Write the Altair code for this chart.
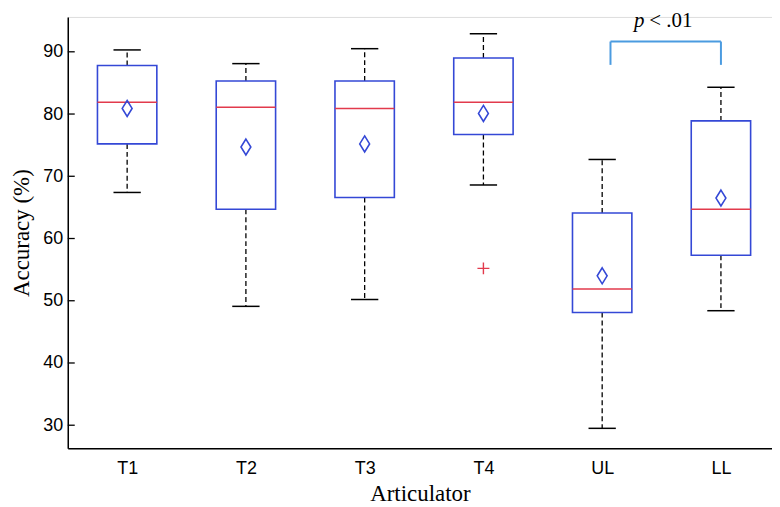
import altair as alt
import pandas as pd

categories = ["T1", "T2", "T3", "T4", "UL", "LL"]
whisker_hi = [90.3, 88.1, 90.5, 92.9, 72.7, 84.3]
q3 = [87.8, 85.3, 85.3, 89.0, 64.1, 78.9]
median = [81.9, 81.1, 80.9, 81.9, 51.9, 64.7]
mean = [80.9, 74.7, 75.2, 80.1, 54.0, 66.5]
q1 = [75.2, 64.7, 66.6, 76.7, 48.1, 57.3]
whisker_lo = [67.4, 49.1, 50.2, 68.6, 29.5, 48.4]
outlier_cat = ["T4"]
outlier_val = [55.2]
y_ticks = [30, 40, 50, 60, 70, 80, 90]
bracket_from, bracket_to = "UL", "LL"
bracket_top, bracket_bottom = 91.65, 87.9
p_label_y = 94.0

BLUE = "#3448d6"
RED = "#e23a4c"
BRACKET = "#4b9be0"
HALF_BOX = 0.25
HALF_CAP = 0.115

idx = {c: i + 1 for i, c in enumerate(categories)}
df = pd.DataFrame({
    "cat": categories, "x": [idx[c] for c in categories],
    "whi": whisker_hi, "q3": q3, "med": median, "mean": mean, "q1": q1, "wlo": whisker_lo,
})
df["xl"] = df["x"] - HALF_BOX
df["xr"] = df["x"] + HALF_BOX
df["cl"] = df["x"] - HALF_CAP
df["cr"] = df["x"] + HALF_CAP

xs = alt.Scale(domain=[0.5, 6.43], nice=False, zero=False)
ys = alt.Scale(domain=[26.3, 95.6], nice=False, zero=False)
label_expr = "{" + ",".join(f"'{i+1}':'{c}'" for i, c in enumerate(categories)) + "}[datum.value]"

X = alt.X("x:Q", scale=xs, axis=alt.Axis(
    values=list(range(1, len(categories) + 1)), labelExpr=label_expr, ticks=False, grid=False,
    domainColor="black", domainWidth=1.5, labelFont="Liberation Sans", labelFontSize=18,
    labelColor="black", labelPadding=11, title="Articulator", titleFont="Liberation Serif",
    titleFontSize=23, titleFontWeight="normal", titleColor="black", titlePadding=5))
Y = alt.Y("q3:Q", scale=ys, axis=alt.Axis(
    values=y_ticks, ticks=False, grid=False, domainColor="black", domainWidth=1.5,
    labelFont="Liberation Sans", labelFontSize=18, labelColor="black", labelPadding=5,
    title="Accuracy (%)", titleFont="Liberation Serif", titleFontSize=23,
    titleFontWeight="normal", titleColor="black", titlePadding=9))

base = alt.Chart(df)

upper = base.mark_rule(color="black", strokeDash=[5, 3], strokeWidth=1.3).encode(
    x=X, y=Y, y2="whi:Q")
lower = base.mark_rule(color="black", strokeDash=[5, 3], strokeWidth=1.3).encode(
    x="x:Q", y=alt.Y("q1:Q", scale=ys), y2="wlo:Q")
cap_hi = base.mark_rule(color="black", strokeWidth=1.5).encode(
    x=alt.X("cl:Q", scale=xs), x2="cr:Q", y=alt.Y("whi:Q", scale=ys))
cap_lo = base.mark_rule(color="black", strokeWidth=1.5).encode(
    x=alt.X("cl:Q", scale=xs), x2="cr:Q", y=alt.Y("wlo:Q", scale=ys))
box = base.mark_rect(fill="white", stroke=BLUE, strokeWidth=1.6).encode(
    x=alt.X("xl:Q", scale=xs), x2="xr:Q", y=alt.Y("q1:Q", scale=ys), y2="q3:Q")
med = base.mark_rule(color=RED, strokeWidth=1.6).encode(
    x=alt.X("xl:Q", scale=xs), x2="xr:Q", y=alt.Y("med:Q", scale=ys))
mean_pt = base.mark_point(shape="M0,-1L0.62,0L0,1L-0.62,0Z", filled=False, stroke=BLUE,
                          strokeWidth=1.6, size=256, opacity=1).encode(
    x=alt.X("x:Q", scale=xs), y=alt.Y("mean:Q", scale=ys))

out_df = pd.DataFrame({"x": [idx[c] for c in outlier_cat], "v": outlier_val})
outl = alt.Chart(out_df).mark_point(shape="M-1,0L1,0M0,-1L0,1", filled=False, stroke=RED,
                                    strokeWidth=1.4, size=144, opacity=1).encode(
    x=alt.X("x:Q", scale=xs), y=alt.Y("v:Q", scale=ys))

tick_df = pd.DataFrame({"v": y_ticks})
yticks = alt.Chart(tick_df).mark_rule(color="black", strokeWidth=1.3).encode(
    x=alt.value(0), x2=alt.value(7), y=alt.Y("v:Q", scale=ys))

bl = idx[bracket_from] + 0.07
br = idx[bracket_to]
br_df = pd.DataFrame({
    "x1": [bl, bl, br], "x2": [br, bl, br],
    "y1": [bracket_top, bracket_bottom, bracket_bottom], "y2": [bracket_top, bracket_top, bracket_top],
})
bracket = alt.Chart(br_df).mark_rule(color=BRACKET, strokeWidth=2).encode(
    x=alt.X("x1:Q", scale=xs), x2="x2:Q", y=alt.Y("y1:Q", scale=ys), y2="y2:Q")

px = 1 + (648 - 127) / 119.4
pt_df = pd.DataFrame({"x": [px], "y": [p_label_y]})
p_txt = alt.Chart(pt_df).mark_text(text="p", font="Liberation Serif", fontStyle="italic",
                                   fontSize=21, align="right", baseline="alphabetic", dx=-1,
                                   color="black").encode(
    x=alt.X("x:Q", scale=xs), y=alt.Y("y:Q", scale=ys))
rest_txt = alt.Chart(pt_df).mark_text(text="< .01", font="Liberation Serif", fontSize=21,
                                      align="left", baseline="alphabetic", dx=4, color="black").encode(
    x=alt.X("x:Q", scale=xs), y=alt.Y("y:Q", scale=ys))

chart = alt.layer(upper, lower, cap_hi, cap_lo, box, med, mean_pt, outl, yticks, bracket,
                  p_txt, rest_txt).properties(
    width=707, height=433, autosize=alt.AutoSizeParams(type="none"),
    padding={"left": 60, "top": 8, "right": 0, "bottom": 58},
).configure_view(stroke=None).configure(background="white")

chart.save("out.html", embed_options={"renderer": "svg", "actions": False})
